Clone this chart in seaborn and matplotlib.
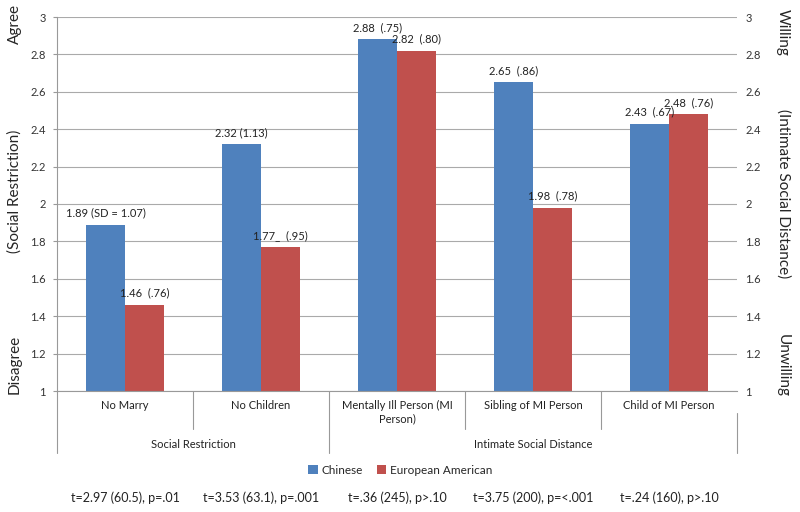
import numpy as np
import pandas as pd
import matplotlib
matplotlib.use('Agg')
import matplotlib.pyplot as plt
import matplotlib.transforms as mtrans
import seaborn as sns

# data
categories = ['No Marry', 'No Children', 'Mentally Ill Person (MI\nPerson)',
              'Sibling of MI Person', 'Child of MI Person']
chinese = [1.89, 2.32, 2.88, 2.65, 2.43]
european = [1.46, 1.77, 2.82, 1.98, 2.48]
chinese_lbl = ['1.89 (SD = 1.07)', '2.32 (1.13)', '2.88  (.75)', '2.65  (.86)', '2.43  (.67)']
european_lbl = ['1.46  (.76)', '1.77_  (.95)', '2.82  (.80)', '1.98  (.78)', '2.48  (.76)']
t_stats = ['t=2.97 (60.5), p=.01', 't=3.53 (63.1), p=.001', 't=.36 (245), p>.10',
           't=3.75 (200), p=<.001', 't=.24 (160), p>.10']
groups = ['Social Restriction', 'Intimate Social Distance']
group_spans = [(0, 1), (2, 4)]
series = ['Chinese', 'European American']
colors = ['#4F81BD', '#C0504D']
yticks = [1, 1.2, 1.4, 1.6, 1.8, 2, 2.2, 2.4, 2.6, 2.8, 3]

df = pd.DataFrame({
    'cat': categories * 2,
    'val': chinese + european,
    'grp': [series[0]] * 5 + [series[1]] * 5,
})

sns.set_style('white')
plt.rcParams['font.family'] = ['Lato', 'DejaVu Sans']

fig = plt.figure(figsize=(8, 5.12), dpi=100)
ax = fig.add_axes([57 / 800, 1 - 391 / 512, 680 / 800, 374 / 512])

sns.barplot(data=df, x='cat', y='val', hue='grp', palette=colors, width=0.574,
            saturation=1, linewidth=0, ax=ax, legend=True)

ax.set_ylim(1, 3)
ax.set_xlim(-0.5, 4.5)
ax.set_yticks(yticks)
ax.set_yticklabels([f'{t:g}' for t in yticks], fontsize=8, color='#333333')
ax.tick_params(axis='y', length=3, color='#999999', pad=5, left=True)
ax.set_xticks([])
ax.set_xlabel('')
ax.set_ylabel('')
ax.set_axisbelow(True)
ax.yaxis.grid(True, color='#aaaaaa', linewidth=0.8)
for s in ['top', 'right']:
    ax.spines[s].set_visible(False)
ax.spines['left'].set_color('#999999')
ax.spines['bottom'].set_color('#999999')
ax.spines['left'].set_linewidth(0.8)
ax.spines['bottom'].set_linewidth(0.8)

# value labels above the bars
for cont, labels in zip(ax.containers, [chinese_lbl, european_lbl]):
    for bar, lab in zip(cont, labels):
        ax.annotate(lab, (bar.get_x() + bar.get_width() / 2, bar.get_height()),
                    xytext=(0, 8.5), textcoords='offset points',
                    ha='center', va='center', fontsize=8, color='#222222')

# right axis
ax2 = ax.twinx()
ax2.set_ylim(1, 3)
ax2.set_yticks(yticks)
ax2.set_yticklabels([f'{t:g}' for t in yticks], fontsize=8, color='#333333')
ax2.tick_params(axis='y', length=0, pad=6)
for s in ax2.spines.values():
    s.set_visible(False)

# hierarchical category axis
tr = mtrans.blended_transform_factory(ax.transData, ax.transAxes)
line_kw = dict(color='#999999', linewidth=0.8, transform=tr, clip_on=False)
for i, cat in enumerate(categories):
    ax.text(i, -0.025, cat, transform=tr, ha='center', va='top', fontsize=8,
            color='#222222', linespacing=1.25)
    ax.text(i, -0.286, t_stats[i], transform=tr, ha='center', va='center',
            fontsize=9, color='#222222')
for b in [0.5, 2.5, 3.5]:
    ax.plot([b, b], [0, -0.102], **line_kw)
for b in [-0.5, 1.5]:
    ax.plot([b, b], [0, -0.166], **line_kw)
ax.plot([4.5, 4.5], [-0.059, -0.166], **line_kw)
for g, (a, b) in zip(groups, group_spans):
    ax.text((a + b) / 2, -0.144, g, transform=tr, ha='center', va='center',
            fontsize=8, color='#222222')

# legend
handles, labels = ax.get_legend_handles_labels()
ax.get_legend().remove()
fig.legend(handles, labels, loc='center', bbox_to_anchor=(0.5, 1 - 470 / 512),
           ncol=2, frameon=False, fontsize=8.5, handlelength=0.8, handleheight=0.8,
           handletextpad=0.3, columnspacing=1.2)

# side labels
fig.text(15 / 800, 1 - 24 / 512, 'Agree', rotation=90, ha='center', va='center', fontsize=11)
fig.text(15 / 800, 1 - 191 / 512, '(Social Restriction)', rotation=90, ha='center', va='center', fontsize=11)
fig.text(15 / 800, 1 - 364 / 512, 'Disagree', rotation=90, ha='center', va='center', fontsize=11)
fig.text(783 / 800, 1 - 32 / 512, 'Willing', rotation=-90, ha='center', va='center', fontsize=11)
fig.text(783 / 800, 1 - 194 / 512, '(Intimate Social Distance)', rotation=-90, ha='center', va='center', fontsize=11)
fig.text(783 / 800, 1 - 365 / 512, 'Unwilling', rotation=-90, ha='center', va='center', fontsize=11)

fig.savefig('out.png', dpi=100)
